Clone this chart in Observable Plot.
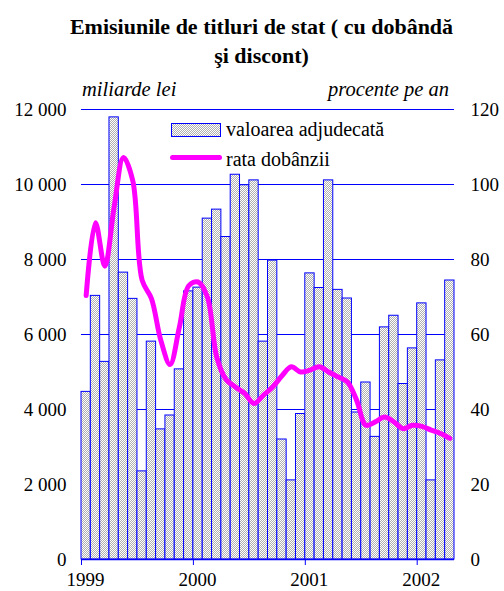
<!DOCTYPE html>
<html><head><meta charset="utf-8">
<script src="https://cdn.jsdelivr.net/npm/d3@7"></script>
<script src="https://cdn.jsdelivr.net/npm/@observablehq/plot@0.6"></script>
<style>
body{margin:0;background:#fff;}
#wrap{position:relative;width:504px;height:591px;font-family:"Liberation Serif","Times New Roman",serif;color:#000;overflow:hidden;}
#title{height:75px;box-sizing:border-box;padding-top:12px;padding-left:19px;text-align:center;font-weight:bold;font-size:22px;line-height:29px;}
.unit{position:absolute;font-style:italic;font-size:20.5px;line-height:20.5px;white-space:nowrap;}
.leg{position:absolute;font-size:20px;line-height:20px;white-space:nowrap;}
#sw1{position:absolute;left:171px;top:123px;width:48px;height:12px;border:1px solid #0000ff;background-image:repeating-conic-gradient(#b0b0b0 0 25%,#fff 0 50%);background-size:2px 2px;}
#sw2{position:absolute;left:170px;top:155px;width:52px;height:5px;border-radius:3px;background:#ff00ff;}
</style>
</head><body>
<div id="wrap">
  <div id="title">Emisiunile de titluri de stat ( cu dobândă<br>şi discont)</div>
  <div id="chart"></div>
  <div class="unit" style="left:82px;top:79px;">miliarde lei</div>
  <div class="unit" style="right:55px;top:79px;">procente pe an</div>
  <div id="sw1"></div>
  <div class="leg" style="left:226px;top:119px;">valoarea adjudecată</div>
  <div id="sw2"></div>
  <div class="leg" style="left:226px;top:149px;">rata dobânzii</div>
</div>
<script>
const years = ["1999", "2000", "2001", "2002"];
const yearTicks = [0, 12, 24, 36];
// monthly values, Jan 1999 - Apr 2002, miliarde lei
const values = [4470, 7030, 5270, 11790, 7650, 6950, 2350, 5810, 3470, 3840, 5070, 7150,
                7250, 9090, 9330, 8600, 10260, 9980, 10110, 5810, 7970, 3200, 2110, 3880,
                7630, 7240, 10110, 7190, 6960, 3920, 4720, 3270, 6190, 6500, 4680, 5630,
                6830, 2110, 5310, 7440];
// interest rate, % per year
const rates = [70.4, 89.8, 78.2, 94, 107.2, 101, 74.5, 69.6, 58.5, 52, 62, 73,
               74, 70, 54, 48, 46, 44.3, 41.6, 43.8, 46, 49, 51.4, 50,
               50.5, 51.4, 50, 48.7, 47.4, 42.5, 35.8, 36.7, 38, 36.7, 34.9, 35.8,
               35.5, 34.5, 33.6, 32.3];
const leftTicks = [0, 2000, 4000, 6000, 8000, 10000, 12000];
const leftLabels = ["0", "2 000", "4 000", "6 000", "8 000", "10 000", "12 000"];
const rightLabels = ["0", "20", "40", "60", "80", "100", "120"];

const data = values.map((v, i) => ({i, v, r: rates[i]}));

const chart = Plot.plot({
  width: 504, height: 516,
  marginTop: 34, marginBottom: 32, marginLeft: 81, marginRight: 50,
  style: {fontFamily: "'Liberation Serif', 'Times New Roman', serif", fontSize: "19px", color: "#000", background: "transparent", overflow: "visible"},
  x: {domain: [0, 40]},
  y: {domain: [0, 12000]},
  marks: [
    Plot.ruleY(leftTicks, {stroke: "#0000ff", strokeWidth: 1, strokeOpacity: 1}),
    Plot.rectY(data, {x1: "i", x2: d => d.i + 1, y1: 0, y2: "v", fill: "url(#chk)", stroke: "#0000ff", strokeWidth: 1}),
    Plot.ruleY([0], {stroke: "#0000ff", strokeWidth: 1.5}),
    Plot.line(data, {x: d => d.i + 0.5, y: d => d.r * 100, stroke: "#ff00ff", strokeWidth: 5, curve: "catmull-rom", strokeLinecap: "round", strokeLinejoin: "round"}),
    Plot.axisY({anchor: "left", ticks: leftTicks, tickSize: 0, tickPadding: 15, tickFormat: d => leftLabels[leftTicks.indexOf(d)], label: null}),
    Plot.axisY({anchor: "right", ticks: leftTicks, tickSize: 0, tickPadding: 16, tickFormat: d => rightLabels[leftTicks.indexOf(d)], label: null}),
    Plot.axisX({ticks: yearTicks, tickSize: 6, stroke: "#0000ff", tickFormat: () => "", label: null}),
    Plot.axisX({ticks: yearTicks, tickSize: 0, tickPadding: 13, dx: 4, tickFormat: d => years[yearTicks.indexOf(d)], label: null})
  ]
});

const defs = d3.select(chart).insert("defs", ":first-child");
const pat = defs.append("pattern").attr("id", "chk").attr("width", 2).attr("height", 2).attr("patternUnits", "userSpaceOnUse");
pat.append("rect").attr("width", 2).attr("height", 2).attr("fill", "#ffffff");
pat.append("rect").attr("width", 1).attr("height", 1).attr("fill", "#b0b0b0");
pat.append("rect").attr("x", 1).attr("y", 1).attr("width", 1).attr("height", 1).attr("fill", "#b0b0b0");

document.getElementById("chart").appendChild(chart);
</script>
</body></html>
